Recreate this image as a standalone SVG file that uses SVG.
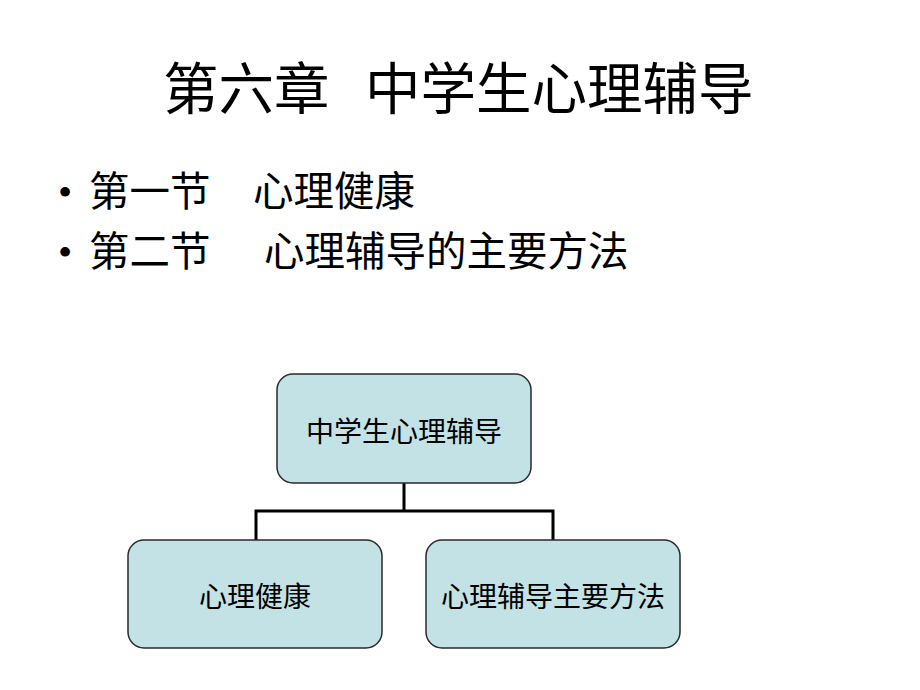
<svg xmlns="http://www.w3.org/2000/svg" width="920" height="690" viewBox="0 0 920 690">
<style>
text{font-family:"Liberation Serif","Noto Sans CJK SC",serif;fill:#000}
.t{font-size:55.5px}
.b{font-size:40.5px}
.n{font-size:28px;text-anchor:middle}
.box{fill:#c2e2e6;stroke:#2a2a2a;stroke-width:1.5}
.c{fill:none;stroke:#000;stroke-width:3}
</style>
<rect width="920" height="690" fill="#fff"/>
<g id="title">
<text class="t" x="163" y="109">第六章</text>
<text class="t" x="365" y="109">中学生心理辅导</text>
</g>
<g id="bullets">
<text class="b" x="58" y="206">•</text>
<text class="b" x="89" y="206">第一节</text>
<text class="b" x="253" y="206">心理健康</text>
<text class="b" x="58" y="266">•</text>
<text class="b" x="89" y="266">第二节</text>
<text class="b" x="264" y="266">心理辅导的主要方法</text>
</g>
<g id="connectors">
<path class="c" d="M404 483V511M256 540V511H553V540"/>
</g>
<g id="root">
<rect class="box" x="277" y="374" width="254" height="109" rx="16"/>
<text class="n" x="404" y="442">中学生心理辅导</text>
</g>
<g id="health">
<rect class="box" x="128" y="540" width="254" height="108" rx="16"/>
<text class="n" x="255" y="607">心理健康</text>
</g>
<g id="methods">
<rect class="box" x="426" y="540" width="254" height="108" rx="16"/>
<text class="n" x="553" y="607">心理辅导主要方法</text>
</g>
</svg>
